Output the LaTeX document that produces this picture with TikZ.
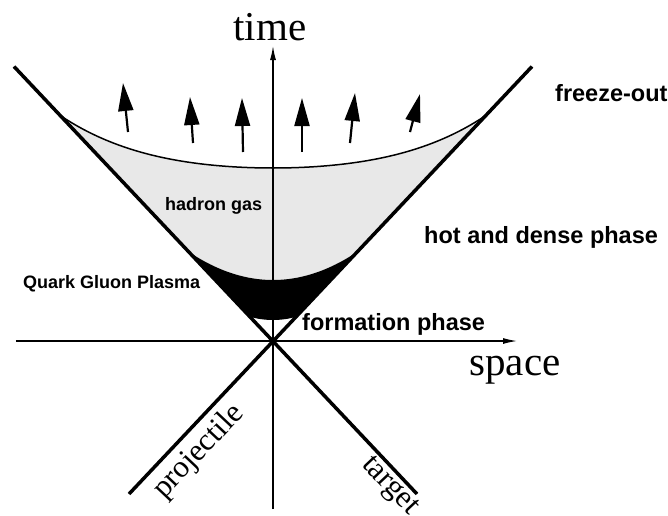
\documentclass[tikz,border=0pt]{standalone}
\usepackage{fontspec}
\setmainfont{Liberation Serif}
\newfontfamily\labelfont{Liberation Sans}
\usetikzlibrary{arrows.meta}

\tikzset{
  cone/.style={line width=3.5pt},
  axis/.style={line width=1.2pt, -{Latex[length=14pt,width=6pt]}},
  flow/.style={line width=2.2pt, -{Triangle[length=28pt,width=15pt]}},
  gasfill/.style={fill=black!9},
  axislabel/.style={font=\fontsize{41}{41}\selectfont, inner sep=0pt},
  beamlabel/.style={font=\fontsize{31}{31}\selectfont, inner sep=0pt},
  phaselabel/.style={font=\labelfont\bfseries\fontsize{23.5}{24}\selectfont, inner sep=0pt},
  regionlabel/.style={font=\labelfont\bfseries\fontsize{18}{18}\selectfont, inner sep=0pt},
}

\begin{document}
\begin{tikzpicture}[x=1pt, y=1pt]
  \useasboundingbox (-273,-174) rectangle (395,341);

  % points of the light cone and the axes
  \coordinate (O) at (0,0);
  \coordinate (conetl) at (-259,274.5);
  \coordinate (conetr) at (259,274.5);
  \coordinate (conebl) at (-144,-153);
  \coordinate (conebr) at (144,-153);
  \coordinate (tbot) at (0,-168);
  \coordinate (ttop) at (0,295);
  \coordinate (sleft) at (-257,0);
  \coordinate (sright) at (244,0);

  % hadron gas region
  \fill[gasfill] plot[domain=-212:212, samples=80] (\x, {173+33.6*(\x/212)*(\x/212)+18.4*((\x/212)*(\x/212))^2})
    -- (84,89) -- plot[domain=84:-84, samples=40] (\x, {61+28*(\x/84)*(\x/84)}) -- cycle;
  % quark gluon plasma region
  \fill[black] plot[domain=-84:84, samples=40] (\x, {61+28*(\x/84)*(\x/84)})
    -- (22.5,24) -- plot[domain=22.5:-22.5, samples=20] (\x, {21+3*(\x/22.5)*(\x/22.5)}) -- cycle;

  % axes
  \draw[axis] (tbot) -- (ttop);
  \draw[axis] (sleft) -- (sright);

  % light cone
  \draw[cone] (conetl) -- (conebr);
  \draw[cone] (conebl) -- (conetr);

  % freeze-out curve
  \draw[line width=1.5pt] plot[domain=-212:212, samples=80, smooth] (\x, {173+33.6*(\x/212)*(\x/212)+18.4*((\x/212)*(\x/212))^2});

  % flow arrows
  \foreach \xa/\ya/\xb/\yb in {-145/209/-150/258, -80/198/-83/244, -30/189/-31/243,
                               29/189/29/243, 77/198/82/248, 137/209/147/247}
    \draw[flow] (\xa,\ya) -- (\xb,\yb);

  % labels
  \node[axislabel, anchor=base] (time) at (-3,301) {time};
  \node[axislabel, anchor=base] (space) at (242,-34) {space};
  \node[beamlabel, rotate=46.7] (proj) at (-74,-111) {projectile};
  \node[beamlabel, rotate=-46.7] (targ) at (116,-146) {target};
  \node[phaselabel, anchor=base west] (freeze) at (282,240) {freeze-out};
  \node[phaselabel, anchor=base west] (hot) at (151,98) {hot and dense phase};
  \node[phaselabel, anchor=base west] (form) at (29,11) {formation phase};
  \node[regionlabel, anchor=base west] (qgp) at (-250,53) {Quark Gluon Plasma};
  \node[regionlabel, anchor=base west] (gas) at (-108,131) {hadron gas};
\end{tikzpicture}
\end{document}
